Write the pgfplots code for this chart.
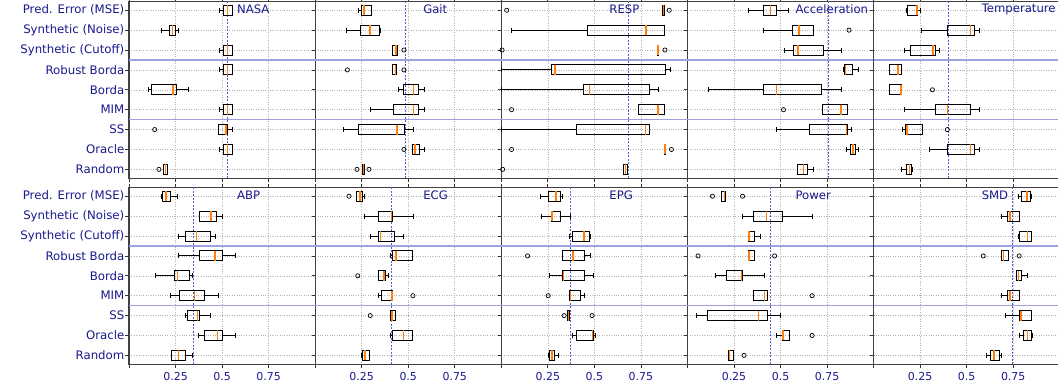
\documentclass[border=0pt]{standalone}
\usepackage{fontspec}
\setmainfont{DejaVu Sans}
\usepackage{pgfplots}
\pgfplotsset{compat=1.18}
\usepgfplotslibrary{statistics}
\definecolor{lbl}{RGB}{25,25,140}
\definecolor{sepc}{RGB}{160,160,225}
\definecolor{medc}{RGB}{255,127,14}
\definecolor{refc}{RGB}{90,90,205}
\newcommand{\bx}[6]{\addplot[boxplot prepared={draw position=#1,lower whisker=#2,lower quartile=#3,median=#4,upper quartile=#5,upper whisker=#6}] coordinates {};}
\tikzset{ttl/.style={anchor=west, font=\fontsize{11.7}{13}\selectfont, text=lbl, inner sep=0pt}}
\pgfplotsset{
  boxplot/draw direction=x,
  boxplot/box extend=0.5,
  boxplot/whisker extend=0.25,
  boxplot/every box/.style={draw=black, line width=0.9bp},
  boxplot/every whisker/.style={draw=black, line width=0.9bp},
  boxplot/every median/.style={draw=medc, line width=1.5bp},
  outl/.style={only marks, mark=o, mark size=2.1bp, black, mark options={line width=0.7bp}},
  sepl/.style={sepc, line width=1.1bp, forget plot},
  refl/.style={refc, line width=0.5bp, dash pattern=on 2bp off 1.5bp},
  panel/.style={
    scale only axis, width=186.15bp, height=177bp, anchor=south west,
    xmin=0, xmax=1, ymin=-0.45, ymax=8.45, y dir=reverse,
    xtick={0,0.25,0.5,0.75,1}, xticklabels={},
    ytick={0,1,2,3,4,5,6,7,8}, yticklabels={},
    grid=major, major grid style={dotted, black!30, line width=0.6bp},
    axis line style={draw=black!75, line width=1.1bp},
    major tick length=3.5bp, tick align=outside,
    ytick pos=left, xtick pos=both,
    tick style={black!80, line width=0.8bp},
    clip=false,
    yticklabel style={font=\fontsize{11.8}{14}\selectfont, text=lbl, inner sep=1bp},
    xticklabel style={font=\fontsize{11}{13}\selectfont, text=lbl, inner sep=1.5bp, yshift=-3bp},
    /pgf/number format/assume math mode=true,
  },
  cats/.style={yticklabels={Pred. Error (MSE),Synthetic (Noise),Synthetic (Cutoff),Robust Borda,Borda,MIM,SS,Oracle,Random}},
  nums/.style={xticklabels={,0.25,0.5,0.75,}},
}
\begin{document}
\begin{tikzpicture}
% ---------------- top row ----------------
\begin{axis}[panel, cats, at={(129bp,206.7bp)}]
\addplot[sepl] coordinates {(0,2.5) (1,2.5)};
\addplot[sepl] coordinates {(0,5.5) (1,5.5)};
\addplot[refl] coordinates {(0.527,-0.45) (0.527,8.45)};
\bx{0}{0.485}{0.510}{0.528}{0.555}{0.555}
\bx{1}{0.177}{0.215}{0.233}{0.249}{0.267}
\bx{2}{0.485}{0.510}{0.528}{0.555}{0.555}
\bx{3}{0.485}{0.510}{0.528}{0.555}{0.555}
\bx{4}{0.106}{0.120}{0.236}{0.254}{0.320}
\bx{5}{0.485}{0.510}{0.528}{0.555}{0.555}
\bx{6}{0.480}{0.483}{0.522}{0.530}{0.555}
\bx{7}{0.485}{0.510}{0.528}{0.555}{0.555}
\bx{8}{0.186}{0.186}{0.195}{0.204}{0.206}
\addplot[outl] coordinates {(0.138,6) (0.161,8)};
\node[ttl] at (axis description cs:0.58,0.955) {NASA};
\end{axis}
\begin{axis}[panel, at={(315.15bp,206.7bp)}]
\addplot[sepl] coordinates {(0,2.5) (1,2.5)};
\addplot[sepl] coordinates {(0,5.5) (1,5.5)};
\addplot[refl] coordinates {(0.484,-0.45) (0.484,8.45)};
\bx{0}{0.232}{0.250}{0.2625}{0.304}{0.304}
\bx{1}{0.170}{0.246}{0.295}{0.343}{0.352}
\bx{2}{0.416}{0.416}{0.434}{0.441}{0.441}
\bx{3}{0.416}{0.416}{0.432}{0.4375}{0.4375}
\bx{4}{0.448}{0.475}{0.529}{0.554}{0.589}
\bx{5}{0.295}{0.421}{0.529}{0.554}{0.589}
\bx{6}{0.154}{0.234}{0.441}{0.479}{0.529}
\bx{7}{0.523}{0.523}{0.536}{0.559}{0.589}
\bx{8}{0.254}{0.254}{0.259}{0.264}{0.264}
\addplot[outl] coordinates {(0.477,2) (0.173,3) (0.477,3) (0.477,7) (0.225,8) (0.289,8)};
\node[ttl] at (axis description cs:0.58,0.955) {Gait};
\end{axis}
\begin{axis}[panel, at={(501.3bp,206.7bp)}]
\addplot[sepl] coordinates {(0,2.5) (1,2.5)};
\addplot[sepl] coordinates {(0,5.5) (1,5.5)};
\addplot[refl] coordinates {(0.681,-0.45) (0.681,8.45)};
\bx{0}{0.866}{0.866}{0.870}{0.877}{0.877}
\bx{1}{0.054}{0.461}{0.777}{0.879}{0.879}
\bx{2}{0.838}{0.838}{0.841}{0.843}{0.843}
\bx{3}{0.0}{0.271}{0.289}{0.880}{0.911}
\bx{4}{0.0}{0.441}{0.473}{0.795}{0.843}
\bx{5}{0.7375}{0.7375}{0.843}{0.879}{0.879}
\bx{6}{0.0}{0.402}{0.775}{0.798}{0.798}
\bx{7}{0.877}{0.877}{0.879}{0.881}{0.881}
\bx{8}{0.655}{0.655}{0.666}{0.677}{0.677}
\addplot[outl] coordinates {(0.029,0) (0.902,0) (0.004,2) (0.879,2) (0.055,5) (0.055,7) (0.914,7) (0.007,8)};
\node[ttl] at (axis description cs:0.58,0.955) {RESP};
\end{axis}
\begin{axis}[panel, at={(687.45bp,206.7bp)}]
\addplot[sepl] coordinates {(0,2.5) (1,2.5)};
\addplot[sepl] coordinates {(0,5.5) (1,5.5)};
\addplot[refl] coordinates {(0.756,-0.45) (0.756,8.45)};
\bx{0}{0.330}{0.407}{0.446}{0.477}{0.543}
\bx{1}{0.407}{0.564}{0.600}{0.675}{0.675}
\bx{2}{0.520}{0.571}{0.595}{0.730}{0.827}
\bx{3}{0.839}{0.845}{0.850}{0.889}{0.921}
\bx{4}{0.114}{0.407}{0.477}{0.720}{0.825}
\bx{5}{0.727}{0.727}{0.825}{0.857}{0.857}
\bx{6}{0.477}{0.657}{0.855}{0.857}{0.882}
\bx{7}{0.854}{0.875}{0.889}{0.905}{0.920}
\bx{8}{0.593}{0.593}{0.623}{0.645}{0.675}
\addplot[outl] coordinates {(0.868,1) (0.516,5)};
\node[ttl] at (axis description cs:0.58,0.955) {Acceleration};
\end{axis}
\begin{axis}[panel, at={(873.6bp,206.7bp)}]
\addplot[sepl] coordinates {(0,2.5) (1,2.5)};
\addplot[sepl] coordinates {(0,5.5) (1,5.5)};
\addplot[refl] coordinates {(0.400,-0.45) (0.400,8.45)};
\bx{0}{0.175}{0.182}{0.234}{0.238}{0.250}
\bx{1}{0.257}{0.396}{0.520}{0.543}{0.570}
\bx{2}{0.164}{0.198}{0.318}{0.334}{0.354}
\bx{3}{0.0875}{0.0875}{0.132}{0.148}{0.148}
\bx{4}{0.0875}{0.0875}{0.148}{0.152}{0.152}
\bx{5}{0.164}{0.334}{0.396}{0.521}{0.570}
\bx{6}{0.157}{0.173}{0.180}{0.261}{0.261}
\bx{7}{0.302}{0.396}{0.520}{0.543}{0.570}
\bx{8}{0.148}{0.179}{0.193}{0.205}{0.209}
\addplot[outl] coordinates {(0.316,4) (0.396,6)};
\node[ttl] at (axis description cs:0.58,0.955) {Temperature};
\end{axis}
% ---------------- bottom row ----------------
\begin{axis}[panel, cats, nums, at={(129bp,20.7bp)}]
\addplot[sepl] coordinates {(0,2.5) (1,2.5)};
\addplot[sepl] coordinates {(0,5.5) (1,5.5)};
\addplot[refl] coordinates {(0.345,-0.45) (0.345,8.45)};
\bx{0}{0.174}{0.179}{0.200}{0.222}{0.258}
\bx{1}{0.376}{0.379}{0.440}{0.472}{0.501}
\bx{2}{0.265}{0.302}{0.363}{0.440}{0.465}
\bx{3}{0.265}{0.376}{0.463}{0.501}{0.572}
\bx{4}{0.143}{0.242}{0.260}{0.324}{0.340}
\bx{5}{0.224}{0.269}{0.351}{0.405}{0.482}
\bx{6}{0.304}{0.315}{0.367}{0.381}{0.440}
\bx{7}{0.374}{0.405}{0.476}{0.503}{0.573}
\bx{8}{0.229}{0.229}{0.267}{0.304}{0.340}
\node[ttl] at (axis description cs:0.58,0.955) {ABP};
\end{axis}
\begin{axis}[panel, nums, at={(315.15bp,20.7bp)}]
\addplot[sepl] coordinates {(0,2.5) (1,2.5)};
\addplot[sepl] coordinates {(0,5.5) (1,5.5)};
\addplot[refl] coordinates {(0.411,-0.45) (0.411,8.45)};
\bx{0}{0.223}{0.223}{0.241}{0.255}{0.2625}
\bx{1}{0.2625}{0.3375}{0.411}{0.416}{0.527}
\bx{2}{0.295}{0.339}{0.352}{0.425}{0.473}
\bx{3}{0.407}{0.416}{0.434}{0.523}{0.523}
\bx{4}{0.339}{0.339}{0.370}{0.377}{0.396}
\bx{5}{0.339}{0.354}{0.4125}{0.416}{0.416}
\bx{6}{0.407}{0.407}{0.414}{0.434}{0.434}
\bx{7}{0.407}{0.416}{0.475}{0.523}{0.523}
\bx{8}{0.250}{0.254}{0.268}{0.291}{0.291}
\addplot[outl] coordinates {(0.182,0) (0.229,4) (0.525,5) (0.296,6)};
\node[ttl] at (axis description cs:0.58,0.955) {ECG};
\end{axis}
\begin{axis}[panel, nums, at={(501.3bp,20.7bp)}]
\addplot[sepl] coordinates {(0,2.5) (1,2.5)};
\addplot[sepl] coordinates {(0,5.5) (1,5.5)};
\addplot[refl] coordinates {(0.373,-0.45) (0.373,8.45)};
\bx{0}{0.2125}{0.254}{0.295}{0.320}{0.329}
\bx{1}{0.214}{0.270}{0.273}{0.320}{0.373}
\bx{2}{0.368}{0.384}{0.445}{0.473}{0.477}
\bx{3}{0.329}{0.329}{0.384}{0.446}{0.477}
\bx{4}{0.261}{0.329}{0.334}{0.446}{0.495}
\bx{5}{0.366}{0.366}{0.373}{0.423}{0.446}
\bx{6}{0.357}{0.357}{0.361}{0.366}{0.366}
\bx{7}{0.384}{0.404}{0.491}{0.495}{0.505}
\bx{8}{0.255}{0.261}{0.273}{0.284}{0.307}
\addplot[outl] coordinates {(0.141,3) (0.252,5) (0.3375,6) (0.4875,6)};
\node[ttl] at (axis description cs:0.58,0.955) {EPG};
\end{axis}
\begin{axis}[panel, nums, at={(687.45bp,20.7bp)}]
\addplot[sepl] coordinates {(0,2.5) (1,2.5)};
\addplot[sepl] coordinates {(0,5.5) (1,5.5)};
\addplot[refl] coordinates {(0.443,-0.45) (0.443,8.45)};
\bx{0}{0.180}{0.180}{0.198}{0.202}{0.202}
\bx{1}{0.296}{0.357}{0.425}{0.5125}{0.671}
\bx{2}{0.325}{0.325}{0.330}{0.359}{0.393}
\bx{3}{0.329}{0.329}{0.330}{0.359}{0.359}
\bx{4}{0.152}{0.209}{0.289}{0.298}{0.414}
\bx{5}{0.355}{0.355}{0.414}{0.429}{0.429}
\bx{6}{0.050}{0.105}{0.382}{0.429}{0.502}
\bx{7}{0.477}{0.5125}{0.514}{0.546}{0.546}
\bx{8}{0.218}{0.218}{0.227}{0.246}{0.246}
\addplot[outl] coordinates {(0.134,0) (0.296,0) (0.057,3) (0.468,3) (0.670,5) (0.670,7) (0.304,8)};
\node[ttl] at (axis description cs:0.58,0.955) {Power};
\end{axis}
\begin{axis}[panel, nums, at={(873.6bp,20.7bp)}]
\addplot[sepl] coordinates {(0,2.5) (1,2.5)};
\addplot[sepl] coordinates {(0,5.5) (1,5.5)};
\addplot[refl] coordinates {(0.745,-0.45) (0.745,8.45)};
\bx{0}{0.780}{0.793}{0.823}{0.843}{0.848}
\bx{1}{0.6875}{0.720}{0.732}{0.782}{0.782}
\bx{2}{0.780}{0.786}{0.827}{0.848}{0.848}
\bx{3}{0.6875}{0.6875}{0.698}{0.723}{0.723}
\bx{4}{0.768}{0.768}{0.779}{0.795}{0.829}
\bx{5}{0.6875}{0.720}{0.732}{0.786}{0.786}
\bx{6}{0.709}{0.782}{0.793}{0.848}{0.848}
\bx{7}{0.782}{0.804}{0.827}{0.848}{0.854}
\bx{8}{0.604}{0.629}{0.646}{0.675}{0.689}
\addplot[outl] coordinates {(0.589,3) (0.782,3)};
\node[ttl] at (axis description cs:0.58,0.955) {SMD};
\end{axis}
\pgfresetboundingbox
\path[use as bounding box] (0,0) rectangle (1058bp,385bp);
\end{tikzpicture}
\end{document}
